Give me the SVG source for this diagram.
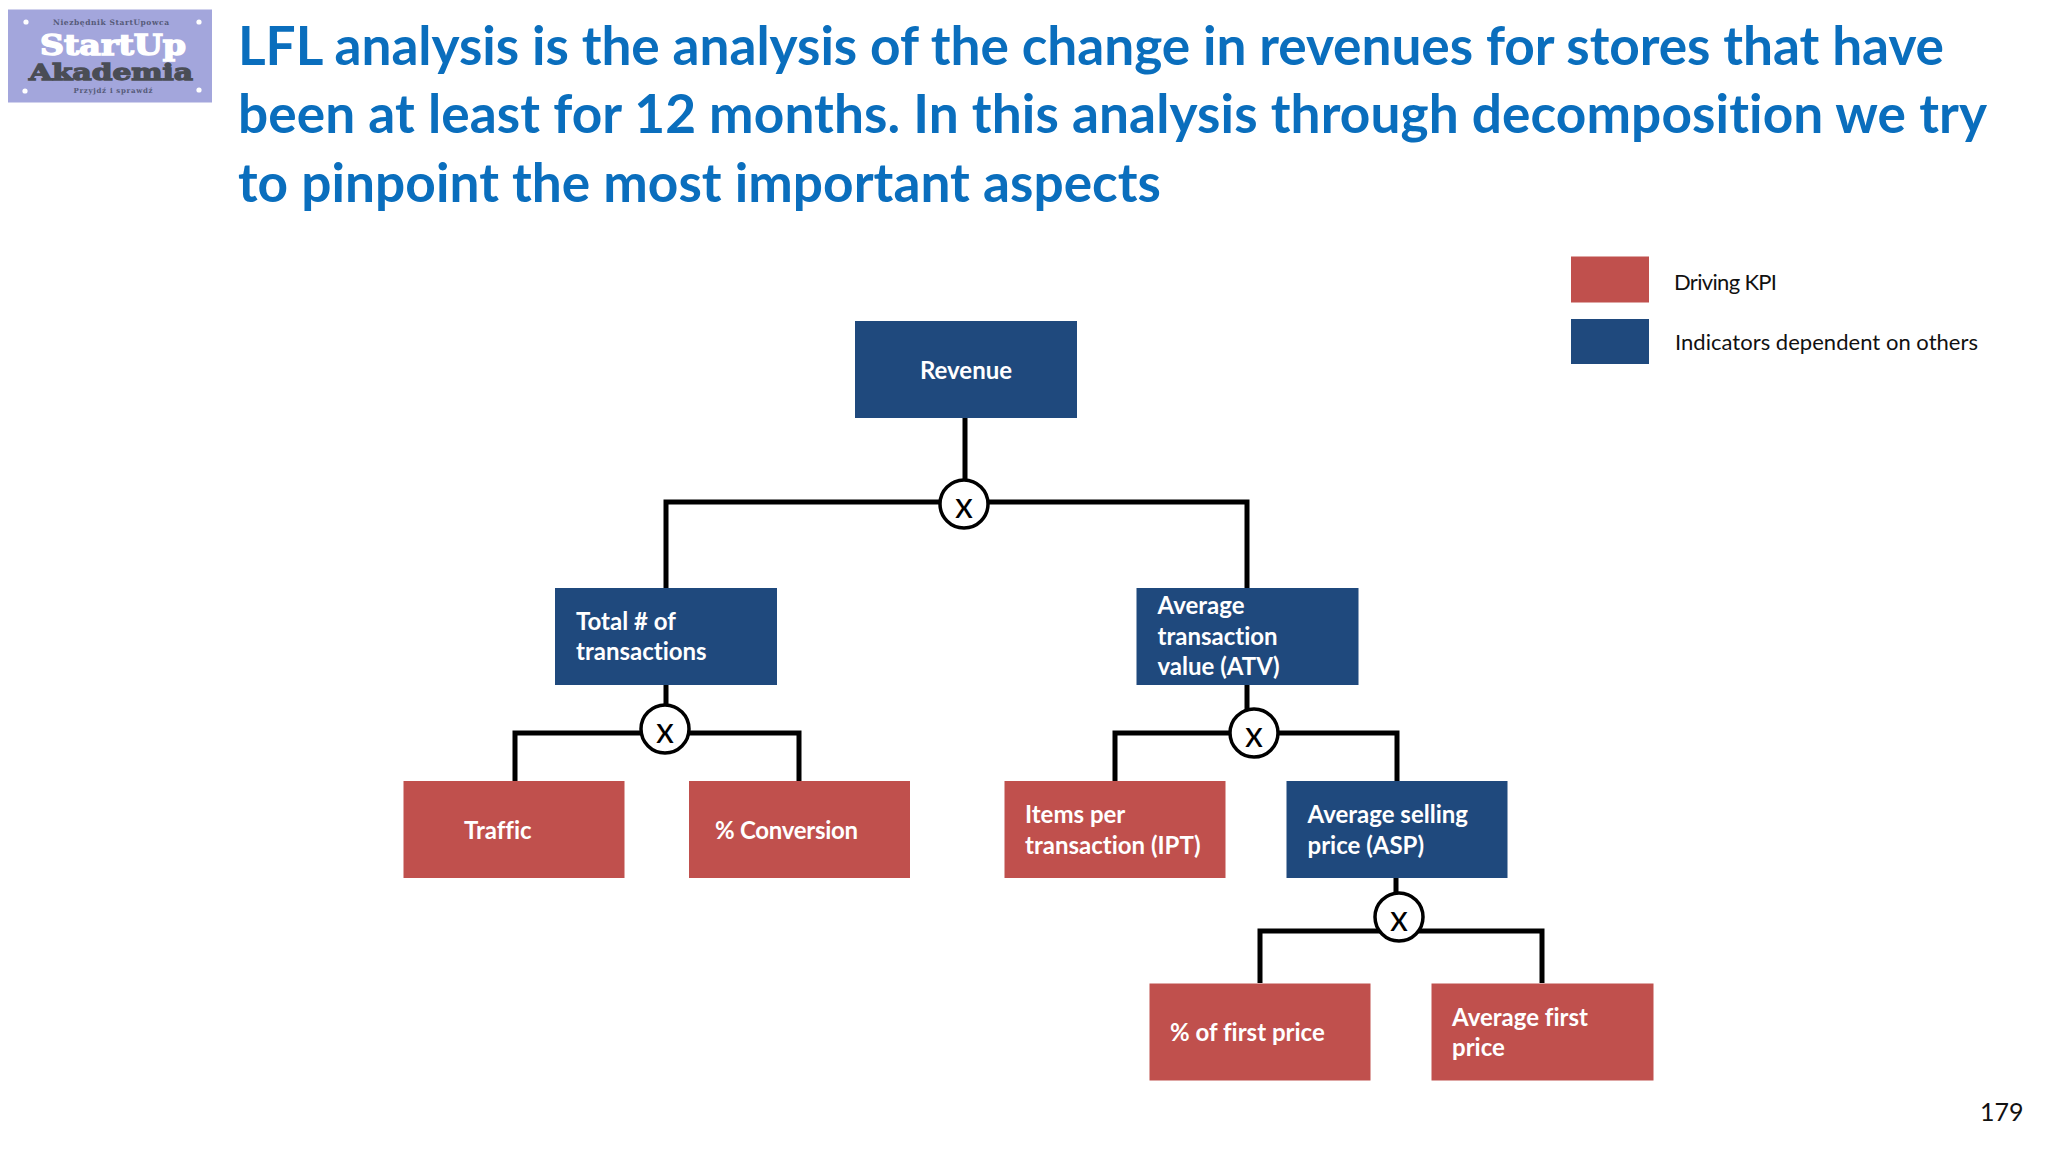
<svg xmlns="http://www.w3.org/2000/svg" width="2048" height="1152" viewBox="0 0 2048 1152">
<style>
text{font-family:Lato,Carlito,"Open Sans",sans-serif;font-variant-ligatures:none}
.title{font-size:53.2px;font-weight:700;fill:#0a6ebd}
.red{fill:#c0504d}.blue{fill:#1f497d}
.lbl{font-size:24px;font-weight:700;fill:#fff}
.leg{font-size:22px;fill:#111}
.wire{fill:none;stroke:#000;stroke-width:5;stroke-linejoin:miter}
.j{fill:#fff;stroke:#000;stroke-width:3.5}
.x{font-size:36px;fill:#000;text-anchor:middle}
.slab{font-family:"DejaVu Serif",serif;font-weight:700;text-anchor:middle}
</style>
<rect width="2048" height="1152" fill="#fff"/>
<g id="logo">
<rect x="8" y="9.5" width="204" height="93" fill="#a3a6dc"/>
<text class="slab" x="111" y="25" font-size="7.5" fill="#555a78" textLength="116">Niezbędnik StartUpowca</text>
<text class="slab" x="113" y="55" font-size="27" fill="#fff" stroke="#fff" stroke-width="1.4" textLength="146" lengthAdjust="spacingAndGlyphs">StartUp</text>
<text class="slab" x="111" y="80" font-size="22" fill="#4a4d55" stroke="#4a4d55" stroke-width="1.3" textLength="164" lengthAdjust="spacingAndGlyphs">Akademia</text>
<text class="slab" x="113" y="93" font-size="7" fill="#555a78" textLength="79">Przyjdź i sprawdź</text>
<g fill="#fff"><circle cx="26" cy="22" r="2.6"/><circle cx="199" cy="22" r="2.6"/><circle cx="25" cy="91" r="2.6"/><circle cx="199" cy="90" r="2.6"/></g>
</g>
<g id="title">
<text class="title" x="238" y="65" textLength="1706">LFL analysis is the analysis of the change in revenues for stores that have</text>
<text class="title" x="238" y="133" textLength="1749">been at least for 12 months. In this analysis through decomposition we try</text>
<text class="title" x="238" y="202" textLength="923">to pinpoint the most important aspects</text>
</g>
<g id="connectors">
<path class="wire" d="M965 418V502M666 588V502H1247V588"/>
<path class="wire" d="M666 684V733M515 781V733H799V781"/>
<path class="wire" d="M1247 684V733M1115 781V733H1397V781"/>
<path class="wire" d="M1396 878V931M1260 983V931H1542V983"/>
</g>
<g id="j1"><circle class="j" cx="964" cy="504" r="24"/><text class="x" x="964" y="518">x</text></g>
<g id="j2"><circle class="j" cx="665" cy="729" r="24"/><text class="x" x="665" y="743">x</text></g>
<g id="j3"><circle class="j" cx="1254" cy="733" r="24"/><text class="x" x="1254" y="747">x</text></g>
<g id="j4"><circle class="j" cx="1399" cy="917" r="24"/><text class="x" x="1399" y="931">x</text></g>
<g id="revenue"><rect class="blue" x="855" y="321" width="222" height="97"/><text class="lbl" x="966" y="379" text-anchor="middle">Revenue</text></g>
<g id="total"><rect class="blue" x="555" y="588" width="222" height="97"/><text class="lbl" x="576" y="630">Total # of</text><text class="lbl" x="576" y="660">transactions</text></g>
<g id="atv"><rect class="blue" x="1136.5" y="588" width="222" height="97"/><text class="lbl" x="1157.5" y="614">Average</text><text class="lbl" x="1157.5" y="645">transaction</text><text class="lbl" x="1157.5" y="675">value (ATV)</text></g>
<g id="traffic"><rect class="red" x="403.5" y="781" width="221" height="97"/><text class="lbl" x="464" y="839">Traffic</text></g>
<g id="conversion"><rect class="red" x="689" y="781" width="221" height="97"/><text class="lbl" x="715" y="839" textLength="143">% Conversion</text></g>
<g id="ipt"><rect class="red" x="1004.5" y="781" width="221" height="97"/><text class="lbl" x="1025" y="823">Items per</text><text class="lbl" x="1025" y="854">transaction (IPT)</text></g>
<g id="asp"><rect class="blue" x="1286.5" y="781" width="221" height="97"/><text class="lbl" x="1307.5" y="823">Average selling</text><text class="lbl" x="1307.5" y="854">price (ASP)</text></g>
<g id="firstpct"><rect class="red" x="1149.5" y="983.5" width="221" height="97"/><text class="lbl" x="1170" y="1041">% of first price</text></g>
<g id="firstavg"><rect class="red" x="1431.5" y="983.5" width="222" height="97"/><text class="lbl" x="1452" y="1026">Average first</text><text class="lbl" x="1452" y="1056">price</text></g>
<g id="legend">
<rect class="red" x="1571" y="256.5" width="78" height="46"/><text class="leg" x="1674" y="290" textLength="103">Driving KPI</text>
<rect class="blue" x="1571" y="319" width="78" height="45"/><text class="leg" x="1675" y="350" textLength="303">Indicators dependent on others</text>
</g>
<text id="page" x="1980" y="1121" font-size="25" fill="#111">179</text>
</svg>
